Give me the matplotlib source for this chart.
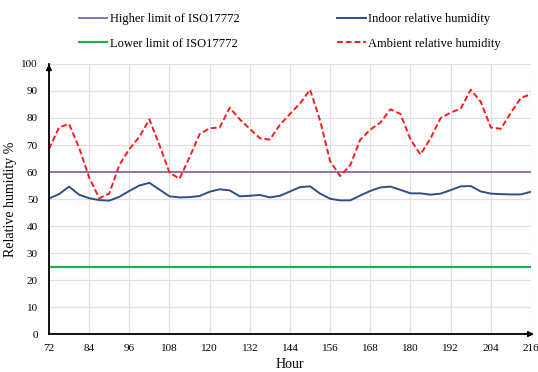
import matplotlib.pyplot as plt
import numpy as np

plt.rcParams['font.family'] = ['Liberation Serif', 'DejaVu Serif']

# hourly readings every 3 h
hours = list(range(72, 217, 3))
ambient_rh = [68.5, 76.5, 77.8, 69, 58, 50.3, 52, 62.5, 68.5, 73,
              79.5, 70, 59.8, 57.5, 65.5, 74, 76.2, 76.5, 83.8, 79.5,
              76, 72.5, 72, 77.5, 81.5, 85.4, 90.5, 79, 64, 58.5,
              62.5, 72, 75.7, 78.3, 83.2, 81.5, 72, 66.5, 72.5, 80,
              82, 83.5, 90.5, 86, 76.5, 76, 82, 87.5, 88.8]
indoor_rh = [50.2, 51.8, 54.6, 51.6, 50.3, 49.6, 49.4, 50.8, 53, 55,
             56, 53.5, 51, 50.6, 50.7, 51.1, 52.7, 53.6, 53.2, 51,
             51.2, 51.5, 50.6, 51.2, 52.8, 54.4, 54.7, 52, 50.1, 49.5,
             49.5, 51.3, 53, 54.3, 54.6, 53.4, 52.1, 52.1, 51.6, 52,
             53.3, 54.7, 54.8, 52.8, 52, 51.8, 51.7, 51.7, 52.7]
iso_high = 60
iso_low = 25
x_ticks = list(range(72, 217, 12))
y_ticks = list(range(0, 101, 10))

fig = plt.figure(figsize=(5.38, 3.72), dpi=100)
ax = fig.add_axes([0.091, 0.102, 0.896, 0.726])

ax.axhline(iso_high, color='#8e72b4', lw=1.4, label='Higher limit of ISO17772')
ax.axhline(iso_low, color='#1fae4f', lw=1.6, label='Lower limit of ISO17772')
ax.plot(hours, indoor_rh, color='#2f4f85', lw=1.4, label='Indoor relative humidity')
ax.plot(hours, ambient_rh, color='#ff1a1a', lw=1.4, ls=(0, (3, 1.5)),
        label='Ambient relative humidity')

ax.set_xlim(72, 216)
ax.set_ylim(0, 100)
ax.set_xticks(x_ticks)
ax.set_yticks(y_ticks)
ax.tick_params(axis='x', length=0, labelsize=8, pad=7)
ax.tick_params(axis='y', length=0, labelsize=8, pad=8)
ax.grid(True, color='#e0e0e0', lw=0.9)
ax.set_axisbelow(True)

for s in ['top', 'right']:
    ax.spines[s].set_visible(False)
for s in ['left', 'bottom']:
    ax.spines[s].set_linewidth(1.3)

# arrow heads on the axes
ax.annotate('', xy=(0, 1.01), xytext=(0, 0.97), xycoords='axes fraction',
            arrowprops=dict(arrowstyle='-|>', color='black', lw=1.2,
                            mutation_scale=8), annotation_clip=False)
ax.annotate('', xy=(1.012, 0), xytext=(0.98, 0), xycoords='axes fraction',
            arrowprops=dict(arrowstyle='-|>', color='black', lw=1.2,
                            mutation_scale=8), annotation_clip=False)

ax.set_xlabel('Hour', fontsize=10, labelpad=4)
ax.set_ylabel('Relative humidity %', fontsize=10, labelpad=3)

fig.legend(loc='upper left', bbox_to_anchor=(0.125, 0.995), ncol=2,
           frameon=False, fontsize=9, handlelength=2.3, handletextpad=0.2,
           columnspacing=7.8, labelspacing=1.0)

fig.savefig('out.png', dpi=100)
